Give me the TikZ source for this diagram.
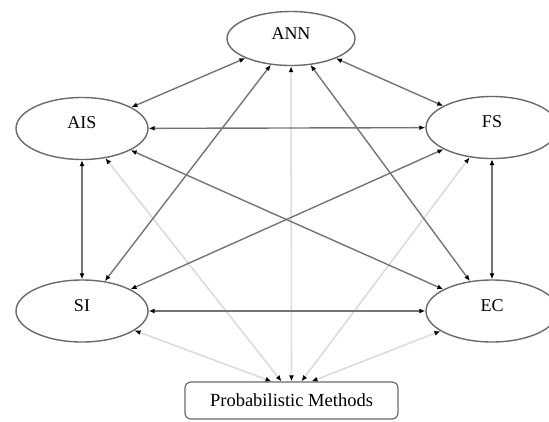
\documentclass[tikz,border=0pt]{standalone}
\usepackage{fontspec}
\setmainfont{Liberation Serif}
\usetikzlibrary{shapes.geometric,arrows.meta}
\definecolor{edgegray}{HTML}{747474}
\definecolor{palegray}{HTML}{DCDCDC}
\definecolor{bordergray}{HTML}{6A6A6A}
\begin{document}
\begin{tikzpicture}[x=1pt,y=-1pt,
  >={Latex[length=6pt,width=5pt,color=black]},
  every node/.style={font=\fontsize{18}{20}\selectfont},
  tech/.style={ellipse,draw=bordergray,line width=1.4pt,minimum width=132pt,minimum height=62pt,inner sep=0pt,text depth=11pt},
  boxnode/.style={rectangle,rounded corners=6pt,draw=bordergray,line width=1.2pt,minimum width=213pt,minimum height=37pt,inner sep=0pt,font=\fontsize{18.5}{20}\selectfont},
  link/.style={<->,edgegray,line width=1.4pt},
  plink/.style={<->,palegray,line width=1.6pt}]
\useasboundingbox (0,0) rectangle (549,421);
\clip (0,0) rectangle (549,421);
\node[tech,minimum width=128pt,minimum height=54pt,text depth=10pt] (ann) at (291,38.5) {ANN};
\node[tech] (ais) at (82,128.5) {AIS};
\node[tech] (fs) at (492,127.5) {FS};
\node[tech] (si) at (82,311) {SI};
\node[tech] (ec) at (492,311) {EC};
\node[boxnode] (pm) at (291.5,400.5) {Probabilistic Methods};
% probabilistic links
\draw[plink] ([xshift=-20pt]pm.north) -- (si);
\draw[plink] ([xshift=-10pt]pm.north) -- (ais);
\draw[plink] ([xshift=0pt]pm.north) -- (ann);
\draw[plink] ([xshift=10pt]pm.north) -- (fs);
\draw[plink] ([xshift=20pt]pm.north) -- (ec);
% complete graph
\draw[link] (ann) -- (ais);
\draw[link] (ann) -- (fs);
\draw[link] (ann) -- (si);
\draw[link] (ann) -- (ec);
\draw[link] (ais) -- (fs);
\draw[link] (ais) -- (si);
\draw[link] (ais) -- (ec);
\draw[link] (fs) -- (si);
\draw[link] (fs) -- (ec);
\draw[link] (si) -- (ec);
\end{tikzpicture}
\end{document}
